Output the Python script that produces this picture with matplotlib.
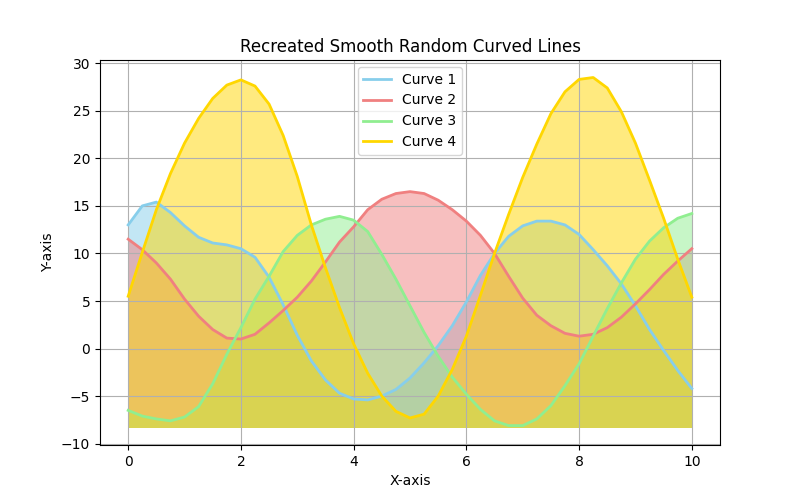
import matplotlib
matplotlib.use("Agg")
import matplotlib.pyplot as plt

# valores, cada 0.25 en x
x = [i * 0.25 for i in range(41)]

curva1 = [13.0, 15.0, 15.4, 14.3, 12.9, 11.7, 11.1, 10.9, 10.5, 9.6,
          7.5, 4.6, 1.4, -1.3, -3.3, -4.7, -5.3, -5.4, -5.0, -4.3,
          -3.1, -1.5, 0.3, 2.4, 4.9, 7.7, 10.0, 11.8, 12.9, 13.4,
          13.4, 13.0, 12.0, 10.4, 8.7, 6.8, 4.5, 2.0, -0.2, -2.3, -4.2]
curva2 = [11.5, 10.4, 9.0, 7.3, 5.2, 3.4, 2.0, 1.1, 1.0, 1.5,
          2.7, 4.0, 5.4, 7.1, 9.1, 11.2, 12.8, 14.6, 15.7, 16.3,
          16.5, 16.3, 15.6, 14.6, 13.4, 11.9, 10.0, 7.6, 5.3, 3.5,
          2.4, 1.6, 1.3, 1.5, 2.2, 3.3, 4.7, 6.2, 7.8, 9.2, 10.5]
curva3 = [-6.5, -7.1, -7.4, -7.6, -7.2, -6.1, -3.7, -0.6, 2.2, 5.2,
          7.6, 10.2, 11.9, 13.0, 13.6, 13.9, 13.5, 12.3, 9.9, 7.3,
          4.5, 1.7, -0.8, -3.0, -4.8, -6.4, -7.6, -8.1, -8.1, -7.4,
          -6.0, -3.9, -1.6, 1.3, 4.2, 6.9, 9.4, 11.3, 12.7, 13.7, 14.2]
curva4 = [5.5, 10.1, 14.6, 18.4, 21.6, 24.2, 26.3, 27.7, 28.25, 27.6,
          25.7, 22.4, 18.1, 13.0, 8.5, 4.3, 0.5, -2.6, -5.0, -6.6,
          -7.3, -6.9, -5.0, -2.2, 1.3, 5.6, 10.0, 14.1, 18.0, 21.5,
          24.7, 27.0, 28.3, 28.5, 27.4, 24.9, 21.6, 17.7, 13.7, 9.4, 5.4]

base_relleno = -8.3

nombres = ["Curve 1", "Curve 2", "Curve 3", "Curve 4"]
colores = ["skyblue", "lightcoral", "lightgreen", "gold"]
curvas = [curva1, curva2, curva3, curva4]

fig, ax = plt.subplots(figsize=(8, 5), dpi=100)

for y, c in zip(curvas, colores):
    ax.fill_between(x, y, base_relleno, color=c, alpha=0.5, lw=0)
for y, c, n in zip(curvas, colores, nombres):
    ax.plot(x, y, color=c, lw=2, label=n, solid_joinstyle="round")

ax.set_title("Recreated Smooth Random Curved Lines")
ax.set_xlabel("X-axis")
ax.set_ylabel("Y-axis")
ax.grid(True)
ax.legend(loc="upper center")

fig.savefig("out.png", dpi=100)
